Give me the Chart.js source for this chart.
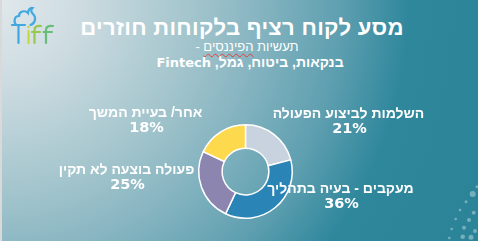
<!DOCTYPE html>
<html lang="he">
<head>
<meta charset="utf-8">
<script src="https://cdn.jsdelivr.net/npm/chart.js@4.4.1/dist/chart.umd.min.js"></script>
<style>
    html, body { margin: 0; padding: 0; }
    body {
        width: 478px; height: 241px; overflow: hidden; position: relative;
        font-family: "Liberation Sans", Arial, sans-serif;
        background: radial-gradient(circle at 0 0, #e0e8eb 0px, #cfdde2 75px, #b4ced5 147px, #a0c3cb 200px, #87b5c1 257px, #5e9fb0 341px, #2f879c 409px, #2b8398 540px);
    }
    .edge { position: absolute; left: 0; top: 0; width: 2px; height: 241px; background: #d9d9d9; }
    .head { position: absolute; left: 0; width: 478px; text-align: center; color: #fff; direction: rtl; white-space: nowrap; }
    #title { top: 15px; left: 3px; font-size: 22px; font-weight: bold; letter-spacing: 0.3px; }
    #sub1 { top: 39px; left: 8px; font-size: 13px; }
    #sub1 .sq { text-decoration: underline wavy #e0403a; text-decoration-thickness: 1px; text-underline-offset: 2px; }
    #sub2 { top: 54px; left: 11px; font-size: 14px; font-weight: bold; }
    #sub2 .lat { font-family: "DejaVu Sans", sans-serif; font-size: 13px; }
    #logo { position: absolute; left: 0; top: 0; }
    #deco { position: absolute; left: 440px; top: 180px; }
    #chart { position: absolute; left: 0; top: 0; }
</style>
</head>
<body>
<div class="edge"></div>

<svg id="logo" width="60" height="48" viewBox="0 0 60 48">
    <g fill="none" stroke-linecap="round" stroke-width="2.2">
        <path d="M12 25 H25 M18.5 25 V43" stroke="#41a8e0"/>
        <path d="M17 25 C13.5 24 13.5 16 19 16 C19 11 25 10 28 13 C28 10 30 7.5 32.5 8 C30.5 10 31 12 33 14 C36.5 17 35.5 23.5 30.5 25" stroke="#41a8e0"/>
        <path d="M28.5 31 V43" stroke="#c4d93a"/>
        <path d="M34.5 43 V30 C34.5 26.5 37 25.5 41 26 M32 32 H40" stroke="#96c94e"/>
        <path d="M46 43 V30 C46 26.5 48.5 25.5 53 26 M43.5 32 H52" stroke="#66bd77"/>
    </g>
    <circle cx="28.5" cy="27" r="1.3" fill="#c4d93a"/>
</svg>

<div class="head" id="title">מסע לקוח רציף בלקוחות חוזרים</div>
<div class="head" id="sub1">תעשיות <span class="sq">הפיננסים</span> -</div>
<div class="head" id="sub2">בנקאות, ביטוח, גמל, <span class="lat">Fintech</span></div>

<canvas id="chart" width="478" height="241"></canvas>

<svg id="deco" width="38" height="61" viewBox="440 180 38 61">
    <g fill="#ffffff" fill-opacity="0.35">
        <circle cx="472.7" cy="194" r="3"/>
        <circle cx="477" cy="186.7" r="1.5"/>
        <circle cx="466" cy="201.7" r="1.5"/>
        <circle cx="460" cy="210" r="1.3"/>
        <circle cx="473.7" cy="212.7" r="2"/>
        <circle cx="469" cy="220" r="2"/>
        <circle cx="455.7" cy="219" r="1.3"/>
        <circle cx="451.7" cy="229" r="1.3"/>
        <circle cx="464" cy="227.7" r="2"/>
        <circle cx="475" cy="231" r="2"/>
        <circle cx="449.3" cy="238" r="1.3"/>
        <circle cx="462.7" cy="236.7" r="2.3"/>
        <circle cx="471" cy="237.3" r="2.5"/>
    </g>
</svg>

<script>
// Data
const categories = ['השלמות לביצוע הפעולה', 'מעקבים - בעיה בתהליך', 'פעולה בוצעה לא תקין', 'אחר/ בעיית המשך'];
const shares = [21, 36, 25, 18];
const sliceColors = ['#c9d3df', '#2b84b6', '#8c85b0', '#fdd94e'];

// Label placement relative to the doughnut centre (label line, then percent below)
const labelOffsets = [[103, -57], [95, 18], [-119, -1], [-100, -58]];

const sliceLabels = {
    id: 'sliceLabels',
    afterDatasetsDraw(chart) {
        const ctx = chart.ctx;
        const arcs = chart.getDatasetMeta(0).data;
        ctx.save();
        ctx.fillStyle = '#ffffff';
        ctx.textAlign = 'center';
        ctx.textBaseline = 'middle';
        arcs.forEach((arc, i) => {
            const x = arc.x + labelOffsets[i][0];
            const y = arc.y + labelOffsets[i][1];
            ctx.direction = 'rtl';
            ctx.font = 'bold 14px "Liberation Sans", Arial, sans-serif';
            ctx.fillText(categories[i], x, y);
            ctx.direction = 'ltr';
            ctx.font = 'bold 14.5px "DejaVu Sans", sans-serif';
            ctx.fillText(shares[i] + '%', x + 1, y + 15);
        });
        ctx.restore();
    }
};

new Chart(document.getElementById('chart').getContext('2d'), {
    type: 'doughnut',
    data: {
        labels: categories,
        datasets: [{
            data: shares,
            backgroundColor: sliceColors,
            borderColor: '#ffffff',
            borderWidth: 1.5
        }]
    },
    options: {
        responsive: false,
        animation: false,
        cutout: '50%',
        layout: { padding: { left: 198, top: 124, right: 185, bottom: 22 } },
        plugins: {
            legend: { display: false },
            tooltip: { enabled: false }
        }
    },
    plugins: [sliceLabels]
});
</script>
</body>
</html>
